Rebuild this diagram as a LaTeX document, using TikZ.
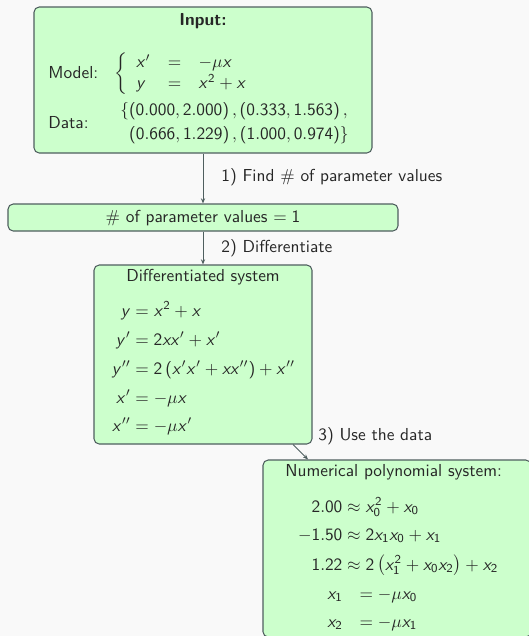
\documentclass[tikz,border=0pt]{standalone}
\usepackage{amsmath}
\usetikzlibrary{arrows.meta,fit}
\DeclareSymbolFont{sfletters}{OT1}{cmss}{m}{sl}
\SetSymbolFont{operators}{normal}{OT1}{cmss}{m}{n}
\DeclareMathSymbol{x}{\mathalpha}{sfletters}{`x}
\DeclareMathSymbol{y}{\mathalpha}{sfletters}{`y}
\renewcommand{\familydefault}{\sfdefault}
\definecolor{bg}{HTML}{F9F9F9}
\definecolor{boxfill}{HTML}{CCFFCC}
\definecolor{boxborder}{HTML}{4F5F5F}
\definecolor{txt}{HTML}{262626}
\newcommand\eqln[3]{\makebox[#1][r]{$#2$}${}#3$}
\tikzset{
  box/.style={draw=boxborder, fill=boxfill, rounded corners=3pt, line width=0.6pt, inner sep=0pt},
  lbl/.style={text=txt, inner sep=0pt, anchor=west},
  eq/.style={text=txt, inner sep=0pt, anchor=base west},
  arr/.style={draw=boxborder, line width=0.5pt, -{Stealth[length=3pt,width=2.4pt]}}
}
\begin{document}
\begin{tikzpicture}[x=0.577pt,y=-0.577pt]
\fill[bg] (0,0) rectangle (529,636);
\useasboundingbox (0,0) rectangle (529,636);
% boxes
\node[box, fit={(34,7) (372,153)}] (b1) {};
\node[box, fit={(8,204) (398,231)}] (b2) {};
\node[box, fit={(94,265) (312,444)}] (b3) {};
\node[box, fit={(263,460) (531,637)}] (b4) {};
% box 1 content
\node[lbl, anchor=center, font=\bfseries] (in) at (203,21) {Input:};
\node[lbl] (model) at (48,73) {Model:};
\node[lbl] (sys) at (114,74) {$\left\{\begin{array}{lcl} x' & = & -\mu x\\ y & = & x^2+x\end{array}\right.$};
\node[lbl] (data) at (48,123) {Data:};
\node[lbl] (d1) at (120,111) {$\{\left(0.000, 2.000\right), \left(0.333, 1.563\right),$};
\node[lbl, anchor=east] (d2) at (349,135) {$\left(0.666, 1.229\right), \left(1.000, 0.974\right)\}$};
% box 2 content
\node[lbl, anchor=center] (np) at (203,218) {$\#$ of parameter values $= 1$};
% box 3 content
\node[lbl, anchor=center] (dt) at (203,277) {Differentiated system};
\node[eq] (e1) at (109.5,316) {\eqln{12pt}{y}{= x^2+x}};
\node[eq] (e2) at (109.5,345) {\eqln{12pt}{y'}{= 2xx'+x'}};
\node[eq] (e3) at (109.5,374) {\eqln{12pt}{y''}{= 2\left(x'x'+xx''\right)+x''}};
\node[eq] (e4) at (109.5,403) {\eqln{12pt}{x'}{= -\mu x}};
\node[eq] (e5) at (109.5,431) {\eqln{12pt}{x''}{= -\mu x'}};
% box 4 content
\node[lbl] (nt) at (285,472) {Numerical polynomial system:};
\node[eq] (n1) at (297,512) {\eqln{26pt}{2.00}{\approx x_0^2+x_0}};
\node[eq] (n2) at (297,540) {\eqln{26pt}{-1.50}{\approx 2x_1x_0+x_1}};
\node[eq] (n3) at (297,570) {\eqln{26pt}{1.22}{\approx 2\left(x_1^2+x_0x_2\right)+x_2}};
\node[eq] (n4) at (327,599) {$x_1\hspace{7pt}= -\mu x_0$};
\node[eq] (n5) at (327,627) {$x_2\hspace{7pt}= -\mu x_1$};
% connectors
\draw[arr] (b1) -- node[lbl, xshift=18*0.577pt, yshift=1pt] (l1) {1) Find $\#$ of parameter values} (b2);
\draw[arr] (b2) -- node[lbl, xshift=18*0.577pt] (l2) {2) Differentiate} (b3);
\draw[arr] (b3) -- (b4);
\node[lbl] (l3) at (318,436) {3) Use the data};
\end{tikzpicture}
\end{document}
